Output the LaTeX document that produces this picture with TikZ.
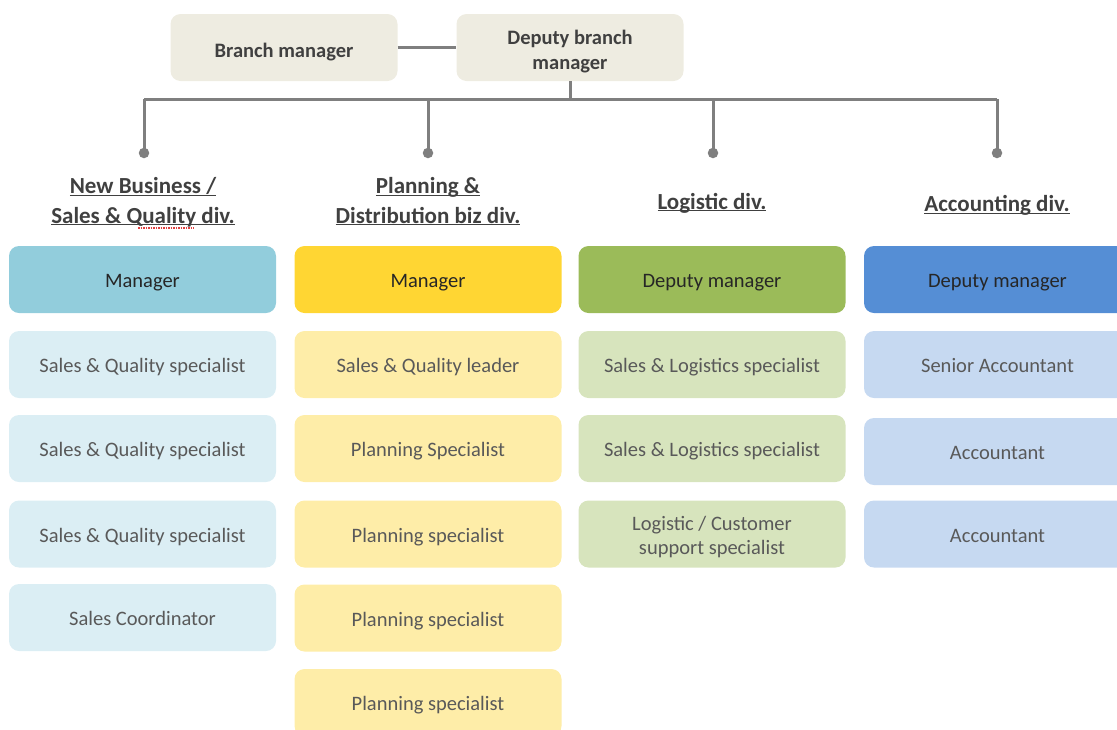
\documentclass[tikz,border=0pt]{standalone}
\usepackage{fontspec}
\setmainfont{Carlito}
\definecolor{topfill}{HTML}{EEECE1}
\definecolor{cAm}{HTML}{92CDDC}
\definecolor{cAs}{HTML}{DBEEF4}
\definecolor{cBm}{HTML}{FFD633}
\definecolor{cBs}{HTML}{FEEDA8}
\definecolor{cCm}{HTML}{9BBB59}
\definecolor{cCs}{HTML}{D7E4BD}
\definecolor{cDm}{HTML}{558ED5}
\definecolor{cDs}{HTML}{C6D9F1}
\definecolor{linegray}{HTML}{7F7F7F}
\definecolor{hdr}{HTML}{404040}
\definecolor{mgrtxt}{HTML}{262626}
\definecolor{spectxt}{HTML}{595959}
\definecolor{squig}{HTML}{E04040}
\newcommand\hul[1]{\underline{\smash{#1}}}
\begin{document}
\begin{tikzpicture}[x=1pt,y=-1pt,
  box/.style={rectangle, rounded corners=10pt, minimum width=267pt, minimum height=67pt,
    inner sep=0pt, align=center, font=\fontsize{20.5}{24}\selectfont, text=spectxt,
    text height=16.4pt, text depth=0pt},
  twoline/.style={text height=40.4pt},
  mgr/.style={box, text=mgrtxt},
  topbox/.style={box, minimum width=227pt, fill=topfill, text=hdr,
    font=\bfseries\fontsize{20.5}{24.5}\selectfont, text height=19.6pt},
  head/.style={align=center, text=hdr, inner sep=0pt, anchor=base,
    font=\bfseries\fontsize{23}{29.5}\selectfont},
  conn/.style={draw=linegray, line width=3pt},
  dot/.style={circle, fill=linegray, inner sep=0pt, minimum size=10.5pt}]
\useasboundingbox (0,0) rectangle (1117,729);
\clip (0,0) rectangle (1117,729);

% top
\node[topbox] (bm) at (284,47.5) {Branch manager};
\node[topbox, text height=43.5pt] (dbm) at (570,47.5) {Deputy branch\\manager};
\draw[conn] (bm.east) -- (dbm.west);

\coordinate (j) at (570,99);
\coordinate (b1) at (144,99);
\coordinate (b2) at (428,99);
\coordinate (b3) at (713,99);
\coordinate (b4) at (997,99);
\node[dot] (d1) at (144,153) {};
\node[dot] (d2) at (428,153) {};
\node[dot] (d3) at (713,153) {};
\node[dot] (d4) at (997,153) {};
\draw[conn] (dbm.south) -- (j);
\draw[conn] (b1) -- (b4);
\draw[conn] (b1) -- (d1.center);
\draw[conn] (b2) -- (d2.center);
\draw[conn] (b3) -- (d3.center);
\draw[conn] (b4) -- (d4.center);

% headers
\node[head] (h1) at (143,223) {\hul{New Business /}\\\hul{Sales \& Quality div.}};
\node[head] (h2) at (428,223) {\hul{Planning \&}\\\hul{Distribution biz div.}};
\node[head] (h3) at (712,209) {\hul{Logistic div.}};
\node[head] (h4) at (997,211.5) {\hul{Accounting div.}};
\coordinate (sq1) at (138,228);
\coordinate (sq2) at (194,228);
\draw[squig, line width=1.2pt, dash pattern=on 1.5pt off 1pt] (sq1) -- (sq2);

% column 1
\node[mgr, fill=cAm] (a0) at (142.5,279.5) {Manager};
\node[box, fill=cAs] (a1) at (142.5,364.5) {Sales \& Quality specialist};
\node[box, fill=cAs] (a2) at (142.5,448.5) {Sales \& Quality specialist};
\node[box, fill=cAs] (a3) at (142.5,534) {Sales \& Quality specialist};
\node[box, fill=cAs] (a4) at (142.5,617.5) {Sales Coordinator};

% column 2
\node[mgr, fill=cBm] (p0) at (428,279.5) {Manager};
\node[box, fill=cBs] (p1) at (428,364.5) {Sales \& Quality leader};
\node[box, fill=cBs] (p2) at (428,448.5) {Planning Specialist};
\node[box, fill=cBs] (p3) at (428,534) {Planning specialist};
\node[box, fill=cBs] (p4) at (428,618) {Planning specialist};
\node[box, fill=cBs] (p5) at (428,702.5) {Planning specialist};

% column 3
\node[mgr, fill=cCm] (l0) at (712,279.5) {Deputy manager};
\node[box, fill=cCs] (l1) at (712,364.5) {Sales \& Logistics specialist};
\node[box, fill=cCs] (l2) at (712,448.5) {Sales \& Logistics specialist};
\node[box, fill=cCs, twoline] (l3) at (712,534) {Logistic / Customer\\support specialist};

% column 4
\node[mgr, fill=cDm] (c0) at (997.5,279.5) {Deputy manager};
\node[box, fill=cDs] (c1) at (997.5,364.5) {Senior Accountant};
\node[box, fill=cDs] (c2) at (997.5,451.5) {Accountant};
\node[box, fill=cDs] (c3) at (997.5,534) {Accountant};
\end{tikzpicture}
\end{document}
